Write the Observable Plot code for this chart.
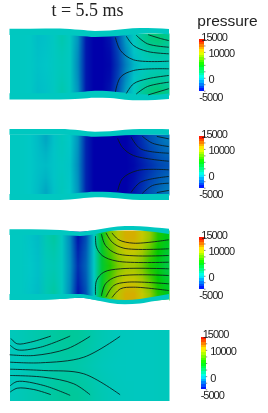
<!DOCTYPE html>
<html><head><meta charset="utf-8">
<style>
html,body{margin:0;padding:0;background:#fff}
svg{display:block;filter:blur(0.35px)}
.ticklabel text{letter-spacing:-1px}
</style>
<script src="https://cdn.jsdelivr.net/npm/d3@7"></script>
<script src="https://cdn.jsdelivr.net/npm/@observablehq/plot@0.6"></script>
</head><body><div id="chart"></div>
<script>
const titleText = "t = 5.5 ms";
const legendTitle = "pressure";
const tickValues = [15000, 10000, 0, -5000];
const colorStops = [-5000, -2500, 0, 2500, 5000, 7500, 10000, 12500, 15000];
const fieldColors = ["#0000aa","#0064b9","#00c8c8","#00c870","#00c800","#96c800","#d2c800","#dc7800","#d20000"];
const barColors = ["#0000ff","#0080ff","#00ffff","#00ff80","#00ff00","#80ff00","#ffff00","#ff8000","#ff0000"];
const barSteps = [-5000,-4000,-3000,-2000,-1000,0,1000,2000,3000,4000,5000,6000,7000,8000,9000,10000,11000,12000,13000,14000];
const barTicks = [-5000,-2500,0,2500,5000,7500,10000,12500,15000];

// pressure read along the duct, one value per column
const p1Edge = [200,200,100,-250,-150,200,700,200,-1300,-4400,-5000,-5000,-4500,-3000,-1000,200,1200,2000,2300,1700];
const p1Quarter = [200,200,100,-200,-100,200,500,200,-1500,-4400,-5000,-5000,-4700,-3300,-1500,-100,500,900,1100,900];
const p1Mid = [200,200,100,-150,-50,200,400,200,-1600,-4400,-5000,-5000,-4800,-3500,-1800,-500,100,250,300,400];
const p2Edge = [200,200,50,-300,-800,-150,350,0,-1300,-4100,-5000,-5000,-5000,-5000,-5000,-4500,-3800,-3000,-2500,-2000];
const p2Quarter = [200,200,50,-250,-500,-100,300,-50,-1400,-4100,-5000,-5000,-5000,-5000,-5000,-4650,-4050,-3400,-2900,-2500];
const p2Mid = [200,200,50,-200,-300,-100,200,-100,-1500,-4100,-5000,-5000,-5000,-5000,-5000,-4800,-4300,-3800,-3300,-3000];
const p3Edge = [200,200,-100,-300,600,1100,200,-1500,-4500,-3000,100,4300,7000,9000,10800,10800,9500,7500,5500,4500];
const p3Quarter = [200,200,-50,-250,500,800,200,-1400,-4100,-2700,100,4000,6200,8000,9400,9400,8200,6500,5000,4000];
const p3Mid = [200,200,0,-200,400,600,200,-1300,-3800,-2500,100,3800,5500,7000,8000,8000,7000,5500,4500,3500];
const p4Edge = [400,500,650,800,950,1100,1250,1300,1250,1050,800,600,450,350,300,250,250,250,300,350];
const p4Quarter = [350,450,600,700,850,1000,1100,1150,1050,900,700,500,400,300,250,250,250,250,300,350];
const p4Mid = [300,350,500,600,700,800,900,900,850,700,550,400,300,250,250,250,250,250,300,350];

// duct walls
const wallX = [9.5,30,60,80,95,110,125,140,155,169];
const outerTop1 = [28.7,28.7,28.5,29.8,31,30.5,29,28,28.3,29];
const innerTop1 = [35,35,35,36,37,36.5,35.3,33.7,33.3,34.5];
const innerBottom1 = [93.3,93.3,93,92,90.7,91.2,92.7,94.3,94.7,93.5];
const outerBottom1 = [99.5,99.5,99.5,98.7,97.7,98,99.7,100.3,100,99];
const outerTop2 = [129,129,129,130.2,131.7,131.2,129.8,129,129,129.3];
const innerTop2 = [134.7,134.7,134.7,135.7,136.7,136.3,135.3,134.7,134.7,135];
const innerBottom2 = [194,194,194,192.8,191.7,192,193.3,194,194,194];
const outerBottom2 = [200,200,200,198.5,197.3,197.7,199,200,200,200];
const outerTop3 = [229.3,229.3,230,231.7,230,227.5,226,226.3,227.5,228.7];
const innerTop3 = [235,235,235,236,234,231,230,230.5,232,234];
const innerBottom3 = [294,294,294,294,296.5,299,300,299,296.5,294];
const outerBottom3 = [300,300,299,297.7,300,303,304.3,303.5,301,299.3];

// isobars
const isobars1 = [
 [[115,37.3],[120,50],[133,59.3],[168,60.7]],
 [[126,36],[133,45],[147,51],[168,53.3]],
 [[136,35],[147,43.3],[168,46.7]],
 [[148,34.3],[160,38],[168,40]],
 [[115,91],[120,76.7],[133,70],[168,68.3]],
 [[126,92.7],[133,83.3],[147,78.3],[168,75]],
 [[136,93.3],[147,86],[168,81.7]],
 [[148,94.3],[168,88.3]]
];
const isobars2 = [
 [[117.3,138.3],[122,147],[133,155],[168,160.7]],
 [[130.7,136.7],[140,148.3],[168,152.7]],
 [[142,136],[152,142.7],[168,146]],
 [[156.7,136],[168,138.3]],
 [[117.3,190],[122,178],[137,170],[168,169.3]],
 [[130.7,191.7],[140,181.7],[168,176]],
 [[142,192.7],[152,185],[168,182.7]],
 [[156.7,192],[168,190]]
];
const isobars3 = [
 [[95,236],[96,246.7],[101.7,255],[116.7,260.7],[168,261.7]],
 [[101,234],[105,245],[116.7,253.3],[168,255]],
 [[105.7,232.7],[111.7,241.7],[123.3,247.7],[168,248.3]],
 [[111.7,232.7],[118.3,239.3],[133.3,242.7],[168,239.3]],
 [[95,294],[96,280],[103.3,271.7],[120,268.3],[168,268.3]],
 [[101,295],[105,283.3],[116.7,276],[168,275]],
 [[105.7,296],[113.3,285],[126.7,281.7],[168,283.3]],
 [[111.7,296.7],[120,288.3],[133.3,286.7],[168,290]]
];
const isobars4 = [
 [[10.7,338.3],[16.7,343.3],[30,341.7],[50,335.7]],
 [[10,345],[16.7,349.3],[40,346.7],[69.3,335.7]],
 [[9.5,354.3],[33.3,355],[66.7,348.3],[89.3,336]],
 [[10,361.7],[40,362.3],[83.3,356.7],[119.3,336]],
 [[10,368.7],[43.3,370],[83.3,373.3],[119.3,394]],
 [[10,375],[43.3,376.7],[73.3,383.3],[89.3,394]],
 [[10,385],[16.7,381],[43.3,385],[69.3,394.7]],
 [[10,391.3],[16.7,387.7],[33.3,389],[50,394]]
];

const gridW = 20, gridH = 5;
const grid = (e, q, m) => [...e, ...q, ...m, ...q, ...e];
const panels = [
 {values: grid(p1Edge,p1Quarter,p1Mid), y1: 33, y2: 95},
 {values: grid(p2Edge,p2Quarter,p2Mid), y1: 134, y2: 195},
 {values: grid(p3Edge,p3Quarter,p3Mid), y1: 230, y2: 300},
 {values: grid(p4Edge,p4Quarter,p4Mid), y1: 329.5, y2: 400.5}
];
const walls = [[outerTop1,innerTop1,innerBottom1,outerBottom1],[outerTop2,innerTop2,innerBottom2,outerBottom2],[outerTop3,innerTop3,innerBottom3,outerBottom3]];
const bars = [{x1:199.3,x2:204,y1:39,y2:90.7},{x1:199.3,x2:204,y1:136,y2:187.7},{x1:199.3,x2:204,y1:237,y2:288.7},{x1:200.7,x2:205.7,y1:336.7,y2:389.3}];
const barColor = d3.scaleLinear(colorStops, barColors);
const barY = (b, p) => b.y2 - (p + 5000) / 20000 * (b.y2 - b.y1);
const wallRows = walls.flatMap((w, k) => wallX.map((x, i) => ({k, x, ot:w[0][i], it:w[1][i], ib:w[2][i], ob:w[3][i]})));
const isoRows = [isobars1,isobars2,isobars3,isobars4].flatMap((set, k) => set.flatMap((line, j) => line.map(([x,y]) => ({x, y, id:k+"-"+j}))));
const barRows = bars.flatMap(b => barSteps.map(p => ({p, x1:b.x1, x2:b.x2, y1:barY(b,p+1000), y2:barY(b,p)})));
const tickRows = bars.flatMap(b => barTicks.map(p => ({x1:b.x2, x2:b.x2+1.5, y:barY(b,p)})));
const labelRows = bars.flatMap(b => tickValues.map(p => ({p, x:(p===15000||p===-5000)? b.x1+(p===15000?1.5:-0.5) : b.x2+4, y:barY(b,p)+(p===15000?-2.5:p===-5000?6:1.5)})));

const plot = Plot.plot({
  width: 268, height: 413, margin: 0,
  x: {domain: [0,268], axis: null},
  y: {domain: [413,0], axis: null},
  color: {type: "linear", domain: colorStops, range: fieldColors, interpolate: "rgb", clamp: true},
  marks: [
    ...panels.map(p => Plot.raster(p.values, {width: gridW, height: gridH, x1: 9.5, x2: 169, y1: p.y1, y2: p.y2, fill: d => d})),
    Plot.areaY(wallRows, {x:"x", y1:d=>d.ot-6, y2:"ot", z:"k", fill:"#fff", curve:"monotone-x"}),
    Plot.areaY(wallRows, {x:"x", y1:"ob", y2:d=>d.ob+6, z:"k", fill:"#fff", curve:"monotone-x"}),
    Plot.areaY(wallRows, {x:"x", y1:"ot", y2:"it", z:"k", fill:"#00c8c0", curve:"monotone-x"}),
    Plot.areaY(wallRows, {x:"x", y1:"ib", y2:"ob", z:"k", fill:"#00c8c0", curve:"monotone-x"}),
    Plot.line(isoRows, {x:"x", y:"y", z:"id", stroke:"#0a1a1a", strokeWidth:0.85, curve:"catmull-rom"}),
    Plot.rect(barRows, {x1:"x1", x2:"x2", y1:"y1", y2:"y2", fill:{value:d=>barColor(d.p+500), scale:null}, shapeRendering:"crispEdges"}),
    Plot.ruleY(tickRows, {x1:"x1", x2:"x2", y:"y", stroke:"#555", strokeWidth:0.7}),
    Plot.text(labelRows, {x:"x", y:"y", text:d=>String(d.p), textAnchor:"start", fontSize:11, fontFamily:"Liberation Sans", fill:"#222", className:"ticklabel"}),
    Plot.text([titleText], {x:87, y:10, text:d=>d, fontSize:18, fontFamily:"Liberation Serif", fill:"#222"}),
    Plot.text([legendTitle], {x:227, y:21, text:d=>d, fontSize:15.5, fontFamily:"Liberation Sans", fill:"#222"})
  ]
});
document.getElementById("chart").appendChild(plot);
</script></body></html>
